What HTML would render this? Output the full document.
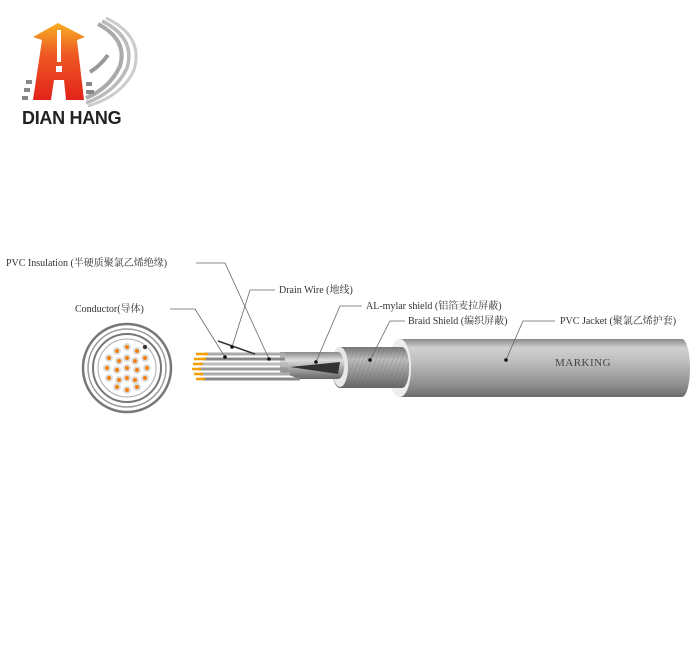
<!DOCTYPE html>
<html><head><meta charset="utf-8"><style>
html,body{margin:0;padding:0;background:#fff;width:700px;height:663px;overflow:hidden}
svg{display:block}
text{font-family:"Liberation Serif","Noto Serif CJK SC",serif;font-size:10px;fill:#333}
</style></head><body>
<svg width="700" height="663" viewBox="0 0 700 663">
<defs>
<linearGradient id="arrow" x1="0" y1="0" x2="0" y2="1">
<stop offset="0" stop-color="#f7b023"/><stop offset="0.4" stop-color="#ef5a24"/><stop offset="1" stop-color="#e2231a"/></linearGradient>
<linearGradient id="jk" x1="0" y1="0" x2="0" y2="1">
<stop offset="0" stop-color="#8a8a8a"/><stop offset="0.15" stop-color="#d0d0d0"/><stop offset="0.4" stop-color="#bdbdbd"/><stop offset="0.8" stop-color="#8d8d8d"/><stop offset="1" stop-color="#6c6c6c"/></linearGradient>
<linearGradient id="br" x1="0" y1="0" x2="0" y2="1">
<stop offset="0" stop-color="#777"/><stop offset="0.3" stop-color="#bbb"/><stop offset="1" stop-color="#666"/></linearGradient>
<linearGradient id="al" x1="0" y1="0" x2="0" y2="1">
<stop offset="0" stop-color="#888"/><stop offset="0.3" stop-color="#ddd"/><stop offset="1" stop-color="#666"/></linearGradient>
<pattern id="mesh" width="4" height="4" patternUnits="userSpaceOnUse" patternTransform="rotate(20)">
<line x1="0" y1="0" x2="0" y2="4" stroke="#555" stroke-width="0.6" opacity="0.5"/></pattern>
</defs>
<!-- logo -->
<g fill="none">
<path d="M98 24 Q128 40 120 66 Q110 88 86 98" stroke="#aaa" stroke-width="4"/>
<path d="M102 21 Q136 38 127 68 Q116 92 86 103" stroke="#bbb" stroke-width="3.5"/>
<path d="M106 18 Q144 36 134 70 Q122 96 88 106" stroke="#ccc" stroke-width="3"/>
<path d="M90 72 Q100 66 108 55" stroke="#999" stroke-width="4"/>
</g>
<path d="M58 23 L85 37 L77 40 L84 100 L66 100 L64 80 L54 80 L51 100 L33 100 L42 40 L33 37 Z" fill="url(#arrow)"/>
<rect x="57" y="30" width="4" height="32" fill="#fff"/>
<rect x="56" y="66" width="6" height="6" fill="#fff"/>
<g fill="#888"><rect x="26" y="80" width="6" height="4"/><rect x="24" y="88" width="6" height="4"/><rect x="22" y="96" width="6" height="4"/>
<rect x="86" y="82" width="6" height="4"/><rect x="86" y="90" width="8" height="4"/></g>
<text x="22" y="124" style="font-family:'Liberation Sans',sans-serif;font-size:18px;fill:#222;font-weight:bold;letter-spacing:-0.3px">DIAN HANG</text>
<!-- cross section -->
<circle cx="127" cy="368" r="44" fill="none" stroke="#777" stroke-width="2.5"/>
<circle cx="127" cy="368" r="39" fill="none" stroke="#999" stroke-width="1.5"/>
<circle cx="127" cy="368" r="34" fill="none" stroke="#777" stroke-width="2"/>
<circle cx="127" cy="368" r="29" fill="none" stroke="#aaa" stroke-width="1"/>
<g fill="#f08010" stroke="#ddd" stroke-width="2">
<circle cx="127" cy="347" r="3"/><circle cx="117" cy="351" r="3"/><circle cx="137" cy="351" r="3"/>
<circle cx="109" cy="358" r="3"/><circle cx="119" cy="361" r="3"/><circle cx="127" cy="358" r="3"/><circle cx="135" cy="361" r="3"/><circle cx="145" cy="358" r="3"/>
<circle cx="107" cy="368" r="3"/><circle cx="117" cy="370" r="3"/><circle cx="127" cy="368" r="3"/><circle cx="137" cy="370" r="3"/><circle cx="147" cy="368" r="3"/>
<circle cx="109" cy="378" r="3"/><circle cx="119" cy="380" r="3"/><circle cx="127" cy="378" r="3"/><circle cx="135" cy="380" r="3"/><circle cx="145" cy="378" r="3"/>
<circle cx="117" cy="387" r="3"/><circle cx="127" cy="390" r="3"/><circle cx="137" cy="387" r="3"/>
</g>
<circle cx="145" cy="347" r="2.5" fill="#333" stroke="#ddd"/>
<!-- jacket -->
<path d="M400 339 L682 339 A8 29 0 0 1 682 397 L400 397 A11 29 0 0 1 400 339 Z" fill="url(#jk)"/>
<ellipse cx="400" cy="368" rx="11" ry="29" fill="#eee"/>
<!-- braid -->
<path d="M340 347 L402 347 A7 20 0 0 1 402 388 L340 388 A8 20 0 0 1 340 347 Z" fill="url(#br)"/>
<path d="M340 347 L402 347 A7 20 0 0 1 402 388 L340 388 Z" fill="url(#mesh)"/>
<ellipse cx="340" cy="367" rx="8" ry="20" fill="#e8e8e8"/>
<!-- AL -->
<path d="M280 352 L338 352 A6 13 0 0 1 338 379 L300 379 L280 372 Z" fill="url(#al)"/>
<path d="M290 367 L340 362 L338 374 Z" fill="#333"/>
<!-- wires -->
<g stroke-width="3">
<line x1="205" y1="354" x2="285" y2="354" stroke="#aaa"/>
<line x1="203" y1="359" x2="285" y2="359" stroke="#888"/>
<line x1="200" y1="364" x2="288" y2="364" stroke="#bbb"/>
<line x1="198" y1="369" x2="288" y2="369" stroke="#999"/>
<line x1="200" y1="374" x2="290" y2="374" stroke="#aaa"/>
<line x1="202" y1="379" x2="300" y2="379" stroke="#888"/>
</g>
<g stroke="#f5a000" stroke-width="2.5">
<line x1="196" y1="354" x2="208" y2="354"/><line x1="194" y1="359" x2="206" y2="359"/><line x1="193" y1="364" x2="203" y2="364"/><line x1="192" y1="369" x2="201" y2="369"/><line x1="194" y1="374" x2="203" y2="374"/><line x1="196" y1="379" x2="205" y2="379"/>
</g>
<path d="M218 341 L255 354" stroke="#333" stroke-width="1.5" fill="none"/>
<!-- leaders -->
<g stroke="#666" stroke-width="0.8" fill="none">
<polyline points="196,263 225,263 269,359"/>
<polyline points="275,290 250,290 232,347"/>
<polyline points="170,309 195,309 225,357"/>
<polyline points="362,306 340,306 316,362"/>
<polyline points="405,321 390,321 370,360"/>
<polyline points="555,321 523,321 506,360"/>
</g>
<g fill="#111"><circle cx="269" cy="359" r="1.8"/><circle cx="232" cy="347" r="1.8"/><circle cx="225" cy="357" r="1.8"/><circle cx="316" cy="362" r="1.8"/><circle cx="370" cy="360" r="1.8"/><circle cx="506" cy="360" r="1.8"/></g>
<text x="6" y="266">PVC Insulation (半硬质聚氯乙烯绝缘)</text>
<text x="279" y="293">Drain Wire (地线)</text>
<text x="75" y="312">Conductor(导体)</text>
<text x="366" y="309">AL-mylar shield (铝箔麦拉屏蔽)</text>
<text x="408" y="324">Braid Shield (编织屏蔽)</text>
<text x="560" y="324">PVC Jacket (聚氯乙烯护套)</text>
<text x="555" y="366" style="font-size:11px;fill:#444;letter-spacing:0.5px">MARKING</text>
</svg>
</body></html>
